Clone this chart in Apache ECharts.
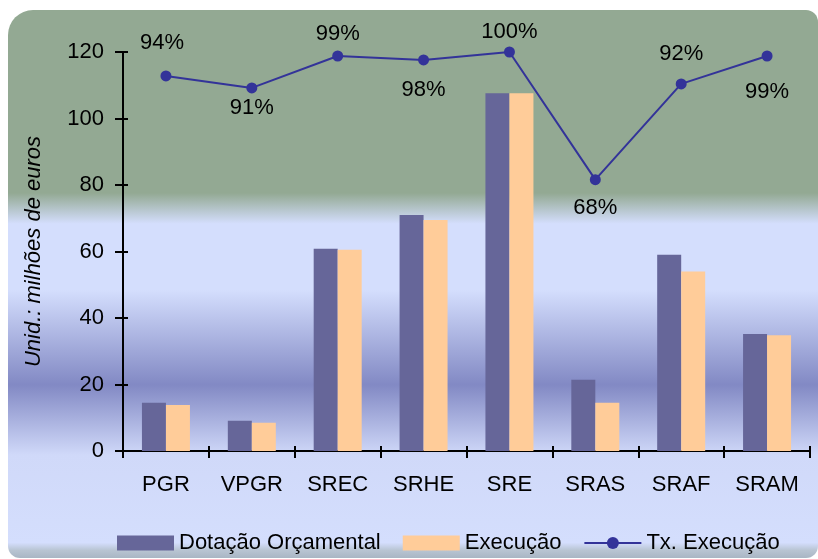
<!DOCTYPE html>
<html>
<head>
<meta charset="utf-8">
<script src="https://cdn.jsdelivr.net/npm/echarts@6/dist/echarts.min.js"></script>
<style>
  html, body { margin: 0; padding: 0; background: #ffffff; }
  #chart { width: 818px; height: 559px; }
</style>
</head>
<body>
<div id="chart"></div>
<script>
// Budget by department (million euros) and execution rate (%)
const categories = ['PGR', 'VPGR', 'SREC', 'SRHE', 'SRE', 'SRAS', 'SRAF', 'SRAM'];
const dotacao = [14.5, 9.1, 60.8, 71.0, 107.6, 21.4, 59.0, 35.2];
const execucao = [13.8, 8.5, 60.5, 69.5, 107.6, 14.5, 54.0, 34.8];
const taxaExecucao = [94, 91, 99, 98, 100, 68, 92, 99];

// where each rate label sits relative to its point (px)
const rateLabelOffsets = [[-4, -33], [0, 20], [0, -22], [0, 30], [0, -20], [0, 28], [0, -30], [0, 36]];

const FONT = "'Liberation Sans', Arial, sans-serif";
const FS = 22;
const chart = echarts.init(document.getElementById('chart'), null, { renderer: 'canvas' });

const valueAxisBase = {
  type: 'value', min: 0, max: 120, interval: 20,
  splitLine: { show: false }
};

chart.setOption({
  animation: false,
  textStyle: { fontFamily: FONT },
  graphic: {
    elements: [{
      type: 'rect',
      z: -100,
      silent: true,
      shape: { x: 8, y: 10, width: 810, height: 548, r: [25, 12, 12, 12] },
      style: {
        fill: new echarts.graphic.LinearGradient(0, 0, 0, 1, [
          { offset: 0, color: '#93a993' },
          { offset: 0.334, color: '#93a993' },
          { offset: 0.39, color: '#d4defd' },
          { offset: 0.511, color: '#d4defd' },
          { offset: 0.684, color: '#8289c4' },
          { offset: 0.812, color: '#d0d9f9' },
          { offset: 0.972, color: '#d4defd' },
          { offset: 0.986, color: '#b8c4d2' },
          { offset: 1, color: '#a9b6c4' }
        ])
      }
    }]
  },
  grid: { left: 123, right: 8, top: 52, bottom: 108, containLabel: false },
  legend: {
    left: 112, top: 527,
    itemWidth: 57, itemHeight: 15, itemGap: 22,
    textStyle: { fontFamily: FONT, fontSize: FS, color: '#000' },
    data: [
      { name: 'Dotação Orçamental', icon: 'rect' },
      { name: 'Execução', icon: 'rect' },
      { name: 'Tx. Execução' }
    ]
  },
  xAxis: [{
    type: 'category', data: categories, boundaryGap: true,
    axisLine: { lineStyle: { color: '#000', width: 2 } },
    axisTick: { show: true, length: 7, lineStyle: { color: '#000', width: 2 } },
    axisLabel: { fontFamily: FONT, fontSize: FS, color: '#000', margin: 23 }
  }, {
    // inner half of the crossing tick marks
    type: 'category', data: categories, boundaryGap: true, position: 'bottom',
    axisLine: { show: false },
    axisTick: { show: true, inside: true, length: 5, lineStyle: { color: '#000', width: 2 } },
    axisLabel: { show: false }
  }],
  yAxis: [Object.assign({}, valueAxisBase, {
    name: 'Unid.: milhões de euros',
    nameLocation: 'middle', nameGap: 78,
    nameTextStyle: { fontFamily: FONT, fontSize: FS, fontStyle: 'italic', color: '#000' },
    axisLine: { show: true, lineStyle: { color: '#000', width: 2 } },
    axisTick: { show: true, length: 8, lineStyle: { color: '#000', width: 2 } },
    axisLabel: { fontFamily: FONT, fontSize: FS, color: '#000', margin: 19 }
  }), {
    // hidden scale for the execution rate
    type: 'value', min: 0, max: 100, show: false, splitLine: { show: false }
  }, Object.assign({}, valueAxisBase, {
    position: 'left',
    axisLine: { show: false },
    axisTick: { show: true, inside: true, length: 5, lineStyle: { color: '#000', width: 2 } },
    axisLabel: { show: false }
  })],
  series: [{
    name: 'Dotação Orçamental', type: 'bar', data: dotacao,
    barWidth: 24, barGap: '0%',
    itemStyle: { color: '#666699' }
  }, {
    name: 'Execução', type: 'bar', data: execucao,
    barWidth: 24, barGap: '0%',
    itemStyle: { color: '#ffcc99' }
  }, {
    name: 'Tx. Execução', type: 'line', yAxisIndex: 1,
    data: taxaExecucao.map((v, i) => ({
      value: v,
      label: { offset: rateLabelOffsets[i] }
    })),
    symbol: 'circle', symbolSize: 11,
    lineStyle: { color: '#333399', width: 2 },
    itemStyle: { color: '#333399' },
    label: {
      show: true, position: 'inside',
      formatter: p => p.value + '%',
      fontFamily: FONT, fontSize: FS, color: '#000'
    },
    z: 5
  }]
});
</script>
</body>
</html>
